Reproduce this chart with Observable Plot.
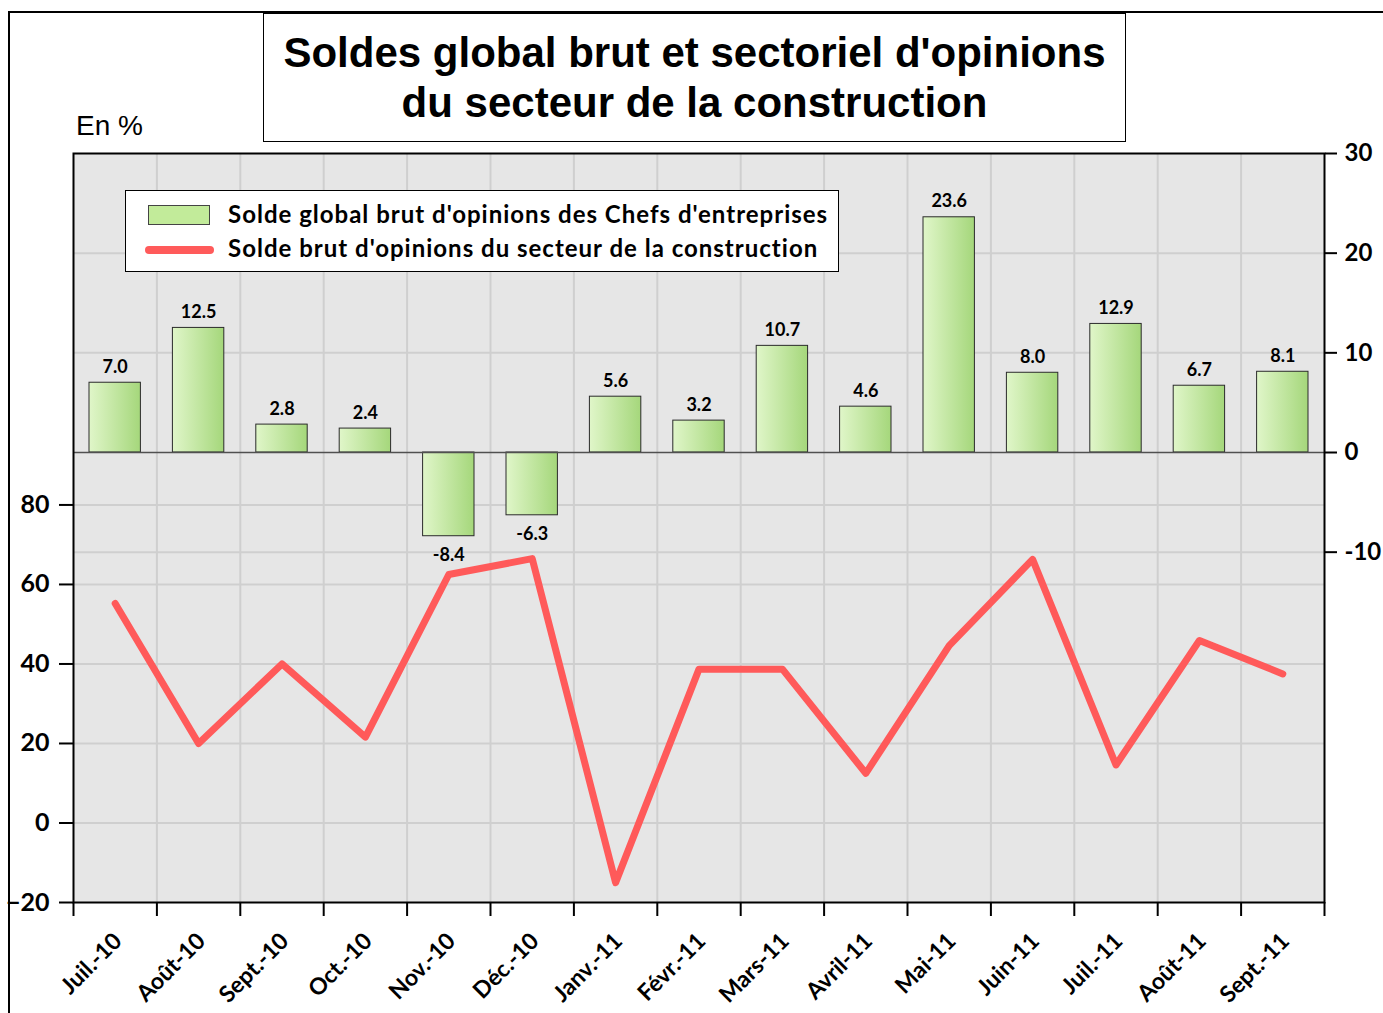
<!DOCTYPE html>
<html>
<head>
<meta charset="utf-8">
<script src="https://cdn.jsdelivr.net/npm/d3@7"></script>
<script src="https://cdn.jsdelivr.net/npm/@observablehq/plot@0.6"></script>
<style>
  body { margin: 0; background: #fff; }
  #wrap { position: relative; width: 1383px; height: 1013px; overflow: hidden; }
  #outer { position: absolute; left: 8px; top: 11px; width: 1500px; height: 1200px;
           border-left: 2.5px solid #000; border-top: 2.5px solid #000; }
  #chart { position: absolute; left: 0; top: 0; }
  #title { position: absolute; left: 263px; top: 13px; width: 861px; height: 127px;
           border: 1.5px solid #000; background: #fff; box-sizing: content-box;
           font-family: "Liberation Sans", Arial, sans-serif; font-weight: bold; font-size: 42px;
           line-height: 50px; text-align: center; padding-top: 0; }
  #title div { position: absolute; left: 0; right: 0; }
  #unit { position: absolute; left: 76px; top: 110px; font-family: "Liberation Sans", Arial, sans-serif;
          font-size: 28px; line-height: 32px; }
  #legend { position: absolute; left: 125px; top: 190px; width: 712px; height: 80px;
            border: 1.5px solid #000; background: #fff; }
  #legend .txt { position: absolute; left: 102px; font-family: Lato, sans-serif; font-weight: bold;
                 font-size: 24px; letter-spacing: 1px; line-height: 30px; white-space: nowrap; }
  #legend .sw { position: absolute; left: 22px; top: 14px; width: 60px; height: 18px;
                background: #c2eb9a; border: 1px solid #444; }
  #legend .ln { position: absolute; left: 19px; top: 55px; width: 69px; height: 8px;
                background: #ff5a5a; border-radius: 4px; }
</style>
</head>
<body>
<div id="wrap">
  <div id="outer"></div>
  <div id="chart"></div>
  <div id="title"></div>
  <div id="unit"></div>
  <div id="legend"></div>
</div>
<script>
// ---------- data ----------
const months = ["Juil.-10","Août-10","Sept.-10","Oct.-10","Nov.-10","Déc.-10","Janv.-11",
                "Févr.-11","Mars-11","Avril-11","Mai-11","Juin-11","Juil.-11","Août-11","Sept.-11"];
const soldeGlobal = [7.0, 12.5, 2.8, 2.4, -8.4, -6.3, 5.6, 3.2, 10.7, 4.6, 23.6, 8.0, 12.9, 6.7, 8.1];
const soldeConstruction = [55.2, 20.0, 40.0, 21.6, 62.5, 66.5, -15.0, 38.7, 38.7, 12.5, 44.6, 66.3, 14.6, 45.9, 37.5];
const leftTicks = [-20, 0, 20, 40, 60, 80];
const rightTicks = [-10, 0, 10, 20, 30];
const titleLines = ["Soldes global brut et sectoriel d'opinions", "du secteur de la construction"];
const unitLabel = "En %";
const seriesNames = ["Solde global brut d'opinions des Chefs d'entreprises",
                     "Solde brut d'opinions du secteur de la construction"];

// ---------- layout ----------
const W = 1383, H = 1013;
const mL = 73, mR = 59, mT = 153, mB = 111;
const frameH = H - mT - mB;
const bw = (W - mL - mR) / months.length;

// left (line) domain and right (bar) domain share the same vertical extent
const leftDomain = [-20, 168.4];
const rightDomain = [-45.15, 30];
const k = (leftDomain[1] - leftDomain[0]) / (rightDomain[1] - rightDomain[0]);
const toLeft = v => leftDomain[0] + (v - rightDomain[0]) * k;
const fromLeft = v => rightDomain[0] + (v - leftDomain[0]) / k;

const data = months.map((m, i) => ({month: m, g: soldeGlobal[i], c: soldeConstruction[i]}));

const gridColor = "#cfcfcf";
const fontBold = {fontFamily: "Lato, sans-serif", fontWeight: "bold"};

const chart = Plot.plot({
  width: W, height: H,
  marginLeft: mL, marginRight: mR, marginTop: mT, marginBottom: mB,
  style: {fontFamily: "Lato, sans-serif", background: "transparent", overflow: "visible", color: "#000"},
  x: {type: "band", domain: months, padding: 0, round: false, axis: null},
  y: {domain: leftDomain, axis: null},
  marks: [
    Plot.frame({fill: "#e6e6e6"}),
    // horizontal gridlines (left and right axis ticks)
    Plot.ruleY(leftTicks.filter(d => d > -20), {stroke: gridColor, strokeWidth: 2}),
    Plot.ruleY(rightTicks.filter(d => d !== 0 && d < 30), {y: toLeft, stroke: gridColor, strokeWidth: 2}),
    // vertical gridlines at category boundaries
    Plot.ruleX(months.slice(1), {x: d => d, dx: -bw / 2, stroke: gridColor, strokeWidth: 2}),
    // bars (right axis)
    Plot.barY(data, {x: "month", y1: () => toLeft(0), y2: d => toLeft(d.g),
      fill: "url(#barGrad)", stroke: "#2b2b2b", strokeWidth: 1, insetLeft: 16, insetRight: 16}),
    // zero line of right axis
    Plot.ruleY([0], {y: toLeft, stroke: "#505050", strokeWidth: 1.5}),
    // line (left axis)
    Plot.line(data, {x: "month", y: "c", stroke: "#ff5a5a", strokeWidth: 7,
      strokeLinecap: "round", strokeLinejoin: "round"}),
    // bar value labels
    Plot.text(data.filter(d => d.g >= 0), {x: "month", y: d => toLeft(d.g), text: d => d.g.toFixed(1),
      lineAnchor: "bottom", dy: -10, fontSize: 18, ...fontBold, fill: "#000"}),
    Plot.text(data.filter(d => d.g < 0), {x: "month", y: d => toLeft(d.g), text: d => d.g.toFixed(1),
      lineAnchor: "top", dy: 12, fontSize: 18, ...fontBold, fill: "#000"}),
    // left axis
    Plot.axisY(leftTicks, {anchor: "left", tickSize: 14, tickPadding: 10, fontSize: 25,
      ...fontBold, strokeWidth: 2, label: null}),
    // right axis
    Plot.axisY(rightTicks.map(toLeft), {anchor: "right", tickSize: 12, tickPadding: 8, fontSize: 24,
      ...fontBold, strokeWidth: 2, label: null, tickFormat: d => String(Math.round(fromLeft(d)))}),
    // x ticks at boundaries
    Plot.ruleX(months, {x: d => d, dx: -bw / 2, insetTop: frameH, insetBottom: -14, stroke: "#000", strokeWidth: 2}),
    Plot.ruleX(months.slice(-1), {x: d => d, dx: bw / 2, insetTop: frameH, insetBottom: -14, stroke: "#000", strokeWidth: 2}),
    // x labels, rotated
    Plot.text(months, {x: d => d, frameAnchor: "bottom", rotate: -45, textAnchor: "end",
      lineAnchor: "bottom", dx: 8, dy: 40, fontSize: 23, ...fontBold, fill: "#000",
      letterSpacing: "0.8px"}),
    Plot.frame({stroke: "#000", strokeWidth: 2})
  ]
});

// gradient for bars
const svg = d3.select(chart);
const defs = svg.insert("defs", ":first-child");
const grad = defs.append("linearGradient").attr("id", "barGrad")
  .attr("x1", "0").attr("x2", "1").attr("y1", "0").attr("y2", "0");
grad.append("stop").attr("offset", "0%").attr("stop-color", "#e0f6c9");
grad.append("stop").attr("offset", "100%").attr("stop-color", "#a5d77b");

document.getElementById("chart").appendChild(chart);

// title
const t = document.getElementById("title");
titleLines.forEach((s, i) => {
  const d = document.createElement("div");
  d.textContent = s;
  d.style.top = (14 + i * 50) + "px";
  t.appendChild(d);
});
document.getElementById("unit").textContent = unitLabel;

// legend
const lg = document.getElementById("legend");
const sw = document.createElement("div"); sw.className = "sw"; lg.appendChild(sw);
const ln = document.createElement("div"); ln.className = "ln"; lg.appendChild(ln);
seriesNames.forEach((s, i) => {
  const d = document.createElement("div");
  d.className = "txt";
  d.textContent = s;
  d.style.top = (8 + i * 34) + "px";
  lg.appendChild(d);
});
</script>
</body>
</html>
